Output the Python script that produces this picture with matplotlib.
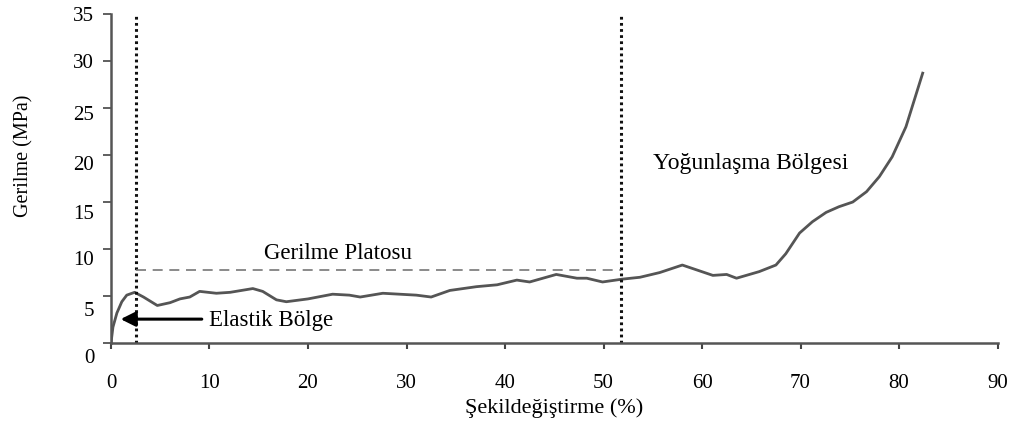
import matplotlib
matplotlib.use('Agg')
import matplotlib.pyplot as plt
from matplotlib.transforms import ScaledTranslation

# stress-strain curve of the foam sample
strain = [0.0, 0.2, 0.6, 1.1, 1.6, 2.4, 3.3, 4.7, 6.0, 7.0, 8.0, 9.0, 10.7, 12.1,
          14.4, 15.4, 16.8, 17.8, 20.0, 22.5, 24.2, 25.3, 27.6, 31.0, 32.5, 34.4,
          37.1, 39.2, 41.2, 42.5, 45.2, 47.3, 48.3, 49.9, 51.9, 53.7, 55.7, 58.0,
          61.1, 62.5, 63.5, 65.8, 67.5, 68.5, 69.9, 71.2, 72.6, 73.9, 75.3, 76.7,
          78.0, 79.3, 80.7, 82.4]
stress = [0.0, 1.7, 3.2, 4.4, 5.1, 5.4, 4.9, 4.0, 4.3, 4.7, 4.9, 5.5, 5.3, 5.4,
          5.8, 5.5, 4.6, 4.4, 4.7, 5.2, 5.1, 4.9, 5.3, 5.1, 4.9, 5.6,
          6.0, 6.2, 6.7, 6.5, 7.3, 6.9, 6.9, 6.5, 6.8, 7.0, 7.5, 8.3,
          7.2, 7.3, 6.9, 7.6, 8.3, 9.5, 11.7, 12.9, 13.9, 14.5, 15.0, 16.1,
          17.7, 19.8, 23.0, 28.7]

x_ticks = [0, 10, 20, 30, 40, 50, 60, 70, 80, 90]
y_ticks = [0, 5, 10, 15, 20, 25, 30, 35]

elastic_end = 2.5
plateau_end = 51.8
plateau_level = 7.8

plt.rcParams['font.family'] = ['Liberation Serif', 'DejaVu Serif']

fig = plt.figure(figsize=(10.2, 4.21), dpi=100)
ax = fig.add_axes([0.1088, 0.185, 0.8692, 0.782])

ax.plot(strain, stress, color='#555555', lw=2.0, solid_joinstyle='round')

# region borders
for xv in (elastic_end, plateau_end):
    ax.plot([xv, xv], [0, 35], color='#111111', lw=2.2, ls=(0, (0.9, 1.1)))
ax.plot([elastic_end, plateau_end], [plateau_level, plateau_level],
        color='#777777', lw=1.2, ls=(0, (6, 4)))

ax.annotate('', xy=(0.7, 2.55), xytext=(9.5, 2.55),
            arrowprops=dict(arrowstyle='-|>', color='black', lw=2.2,
                            mutation_scale=22))
ax.text(10.0, 2.4, 'Elastik Bölge', fontsize=16.5, va='center', ha='left')
ax.text(15.5, 9.5, 'Gerilme Platosu', fontsize=16.5, va='center', ha='left')
ax.text(55.0, 19.1, 'Yoğunlaşma Bölgesi', fontsize=17, va='center', ha='left')

ax.set_xlim(0, 90)
ax.set_ylim(0, 35)
ax.set_xticks(x_ticks)
ax.set_yticks(y_ticks)
ax.tick_params(axis='x', direction='out', length=4, width=1.5, pad=18,
               labelsize=15, color='#444444')
ax.tick_params(axis='y', direction='out', length=6, width=1.2, pad=6,
               labelsize=15, color='#444444')

# y tick labels sit a little below their ticks, more so near the bottom
label_drop = [13, 13, 9, 10, 8, 5, 0, 0]
for lab, drop in zip(ax.get_yticklabels(), label_drop):
    lab.set_transform(lab.get_transform() +
                      ScaledTranslation(0, -drop / 100, fig.dpi_scale_trans))

for side in ('top', 'right'):
    ax.spines[side].set_visible(False)
for side in ('left', 'bottom'):
    ax.spines[side].set_color('#555555')
    ax.spines[side].set_linewidth(1.8)

ax.set_xlabel('Şekildeğiştirme (%)', fontsize=16, labelpad=4)
ax.set_ylabel('Gerilme (MPa)', fontsize=14.5)
ax.yaxis.set_label_coords(-0.087, 0.57)

fig.savefig('out.png', dpi=100)
